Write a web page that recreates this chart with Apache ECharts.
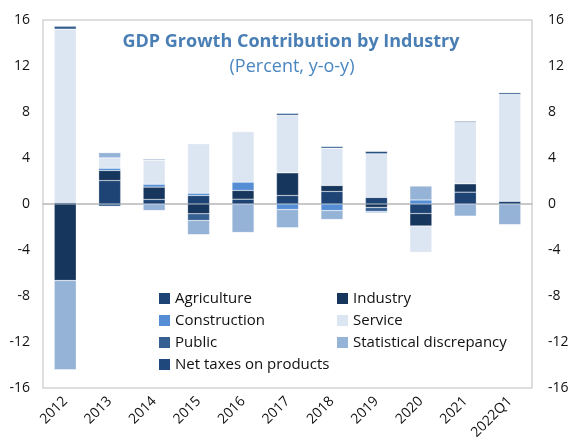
<!DOCTYPE html>
<html>
<head>
<meta charset="utf-8">
<script src="https://cdn.jsdelivr.net/npm/echarts@6/dist/echarts.min.js"></script>
<style>
  html, body { margin: 0; padding: 0; background: #fff; }
  #main { width: 573px; height: 447px; }
</style>
</head>
<body>
<div id="main"></div>
<script>
// categories and series (percentage points)
var years = ['2012','2013','2014','2015','2016','2017','2018','2019','2020','2021','2022Q1'];
var agriculture  = [0.13, 2.04, 0.40, 0.74, 0.42, 0.74, 1.09, 0.57, -0.83, 1.03, 0.25];
var industry     = [-6.65, 0.87, 1.07, -0.85, 0.76, 1.97, 0.52, -0.30, -1.08, 0.73, 0];
var construction = [0, 0.20, 0.25, 0.20, 0.72, -0.48, -0.57, 0, 0.35, 0, 0];
var service      = [15.07, 0.90, 2.09, 4.30, 4.40, 5.00, 3.24, 3.80, -2.30, 5.33, 9.28];
var publicSec    = [0.26, -0.20, 0.08, -0.58, 0, 0.17, 0.15, -0.35, 0, 0.10, 0.15];
var statDisc     = [-7.77, 0.46, -0.57, -1.24, -2.48, -1.59, -0.78, -0.12, 1.22, -1.06, -1.80];
var netTaxes     = [0, 0, 0, 0, 0, 0, 0, 0.20, 0, 0, 0];
var yTicks = [-16, -12, -8, -4, 0, 4, 8, 12, 16];

var font = '"Open Sans", "Noto Sans", sans-serif';
var myChart = echarts.init(document.getElementById('main'));

function bar(name, data, color){
    return {
        name: name,
        type: 'bar',
        stack: 'gdp',
        barWidth: 22,
        data: data,
        itemStyle: { color: color, borderColor: 'rgba(255,255,255,0.45)', borderWidth: 0.5 }
    };
}

var legendText = { fontFamily: font, fontSize: 15, color: '#111', lineHeight: 14 };

var option = {
    animation: false,
    textStyle: { fontFamily: font },
    title: [
        {
            text: 'GDP Growth Contribution by Industry',
            left: 286, top: 28, textAlign: 'center',
            textStyle: { fontFamily: font, fontSize: 18, fontWeight: 'bold', color: '#4a7fb5' }
        },
        {
            text: '(Percent, y-o-y)',
            left: 287, top: 53, textAlign: 'center',
            textStyle: { fontFamily: font, fontSize: 18, fontWeight: 'normal', color: '#4a86c0' }
        }
    ],
    legend: [
        {
            orient: 'vertical', left: 154, top: 286,
            itemWidth: 11, itemHeight: 11, itemGap: 7, itemStyle: { borderWidth: 0 },
            icon: 'rect', textStyle: legendText,
            data: ['Agriculture', 'Construction', 'Public', 'Net taxes on products']
        },
        {
            orient: 'vertical', left: 332, top: 286,
            itemWidth: 11, itemHeight: 11, itemGap: 7, itemStyle: { borderWidth: 0 },
            icon: 'rect', textStyle: legendText,
            data: ['Industry', 'Service', 'Statistical discrepancy']
        }
    ],
    grid: {
        left: 43, right: 41, top: 20, bottom: 59,
        show: true, borderColor: '#d4d4d4', borderWidth: 1.5
    },
    xAxis: {
        type: 'category',
        data: years,
        axisLine: { onZero: true, lineStyle: { color: '#c8c8c8', width: 2 } },
        axisTick: { show: false },
        axisLabel: { rotate: 45, margin: 11, fontSize: 14, color: '#111', fontFamily: font, interval: 0 }
    },
    yAxis: [
        {
            type: 'value', position: 'left',
            min: yTicks[0], max: yTicks[yTicks.length - 1], interval: 4,
            splitLine: { show: false },
            axisLine: { show: false }, axisTick: { show: false },
            axisLabel: { fontSize: 14, color: '#111', fontFamily: font, margin: 13 }
        },
        {
            type: 'value', position: 'right',
            min: yTicks[0], max: yTicks[yTicks.length - 1], interval: 4,
            splitLine: { show: false },
            axisLine: { show: false }, axisTick: { show: false },
            axisLabel: { fontSize: 14, color: '#111', fontFamily: font, margin: 16 }
        }
    ],
    series: [
        bar('Agriculture', agriculture, '#1e4476'),
        bar('Industry', industry, '#17365d'),
        bar('Construction', construction, '#558ed5'),
        bar('Service', service, '#dce6f2'),
        bar('Public', publicSec, '#376092'),
        bar('Statistical discrepancy', statDisc, '#95b3d7'),
        bar('Net taxes on products', netTaxes, '#1f497d')
    ]
};
myChart.setOption(option);
</script>
</body>
</html>
